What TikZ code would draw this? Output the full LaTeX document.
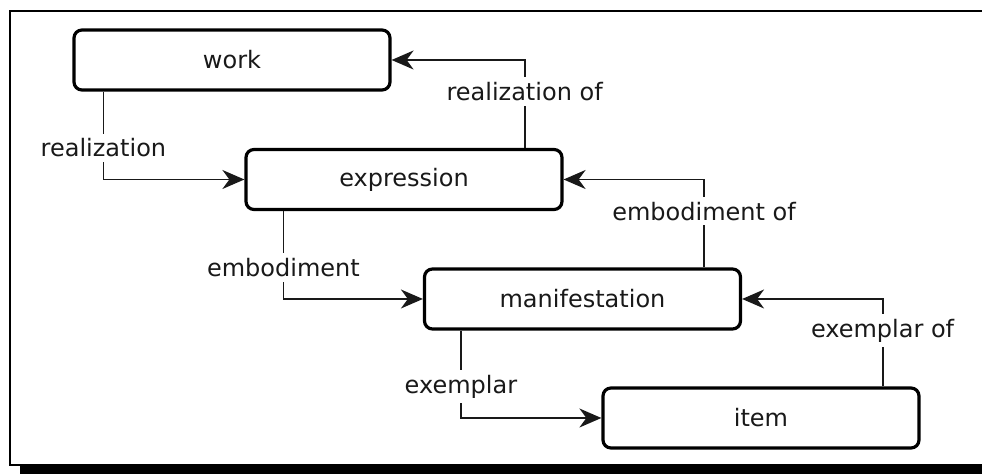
\documentclass[tikz,border=0pt]{standalone}
\usepackage{fontspec}
\setmainfont{DejaVu Sans}
\usetikzlibrary{arrows.meta}
\begin{document}
\begin{tikzpicture}[x=0.5pt,y=-0.5pt,
  entity/.style={draw=black, line width=1.6pt, rounded corners=4pt, fill=white,
    minimum width=158pt, minimum height=30pt, inner sep=0pt,
    font=\fontsize{12}{14}\selectfont, text=black!90},
  rel/.style={draw=black!90, line width=0.9pt,
    -{Stealth[length=11pt,width=9.5pt,inset=3.5pt]}},
  rellabel/.style={fill=white, inner sep=2.5pt, pos=0.32,
    font=\fontsize{12}{14}\selectfont, text=black!90}
]
\useasboundingbox (0,0) rectangle (982,474);
\clip (0,0) rectangle (982,474);

% page frame with its drop shadow
\fill[black] (20,466) rectangle (1000,480);
\draw[line width=1.4pt, fill=white] (10,11) rectangle (1000,465);

% the four entities
\node[entity] (work)          at (232,60)    {work};
\node[entity] (expression)    at (404,179.5) {expression};
\node[entity] (manifestation) at (582.5,299) {manifestation};
\node[entity] (item)          at (761,418)   {item};

% downward relations
\draw[rel] ([xshift=15.5pt]work.south west) |- node[rellabel]{realization} (expression.west);
\draw[rel] ([xshift=19.5pt]expression.south west) |- node[rellabel]{embodiment} (manifestation.west);
\draw[rel] ([xshift=19pt]manifestation.south west) |- node[rellabel]{exemplar} (item.west);

% inverse relations
\draw[rel] ([xshift=-19.5pt]expression.north east) |- node[rellabel]{realization of} (work.east);
\draw[rel] ([xshift=-19pt]manifestation.north east) |- node[rellabel]{embodiment of} (expression.east);
\draw[rel] ([xshift=-19pt]item.north east) |- node[rellabel]{exemplar of} (manifestation.east);
\end{tikzpicture}
\end{document}
